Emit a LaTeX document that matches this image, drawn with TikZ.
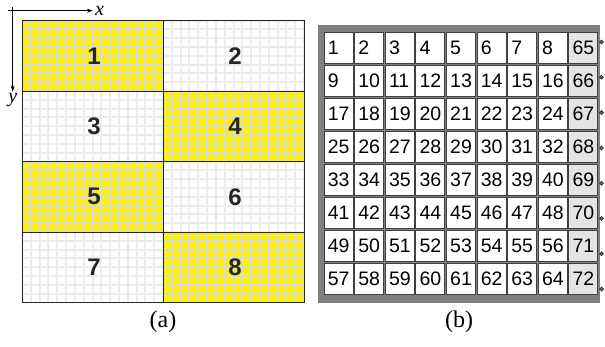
\documentclass[tikz,border=0pt]{standalone}
\usepackage{fontspec}
\setmainfont{Liberation Serif}
\setsansfont{Liberation Sans}
\usepackage{xcolor}
\usepackage{tikz}
\usetikzlibrary{arrows.meta,positioning}

\definecolor{frameGray}{RGB}{128,128,128}
\definecolor{lastCol}{RGB}{228,228,228}

\tikzset{
  blocknum/.style={font=\sffamily\bfseries\fontsize{24}{26}\selectfont, text=black!85},
  cellbox/.style={draw=black!75, line width=1pt, anchor=north west, text width=21.4pt,
    inner sep=3.8pt, minimum height=30.5pt, align=left, font=\sffamily\fontsize{19.5}{21}\selectfont},
  rowdot/.style={circle, inner sep=0pt, minimum size=3.8pt, fill=black!55, draw=black!85, line width=0.7pt},
  axislabel/.style={font=\itshape\fontsize{20}{22}\selectfont, inner sep=2pt},
  caption/.style={font=\fontsize{24}{26}\selectfont}
}

\begin{document}
\begin{tikzpicture}[x=1pt, y=-1pt]
			\useasboundingbox (0,0) rectangle (605,346);
			% Image split in 8 blocks (16x8 fine cells each)
			\foreach \r in {0,...,3} {
				\foreach \c in {0,1} {
					\pgfmathtruncatemacro{\num}{2*\r+\c+1}
					\pgfmathsetmacro{\bx}{22+141*\c}
					\pgfmathsetmacro{\by}{20.5+70.5*\r}
					\pgfmathtruncatemacro{\lit}{mod(\r+\c,2)==0 ? 1 : 0}
					\begin{scope}
						\clip (\bx,\by) rectangle ++(141,70.5);
						\ifnum\lit=1
						\fill[yellow] (\bx,\by) rectangle ++(141,70.5);
						\def\gridcol{gray!30}
						\else
						\fill[white] (\bx,\by) rectangle ++(141,70.5);
						\def\gridcol{gray!14}
						\fi
						\foreach \i in {0,...,16}
						\draw[\gridcol, line width=2pt] ({\bx+\i*8.8125},\by) -- ++(0,70.5);
						\foreach \j in {0,...,8}
						\draw[\gridcol, line width=2pt] (\bx,{\by+\j*8.8125}) -- ++(141,0);
					\end{scope}
					\node[blocknum] (blk\num) at ({\bx+72},{\by+35.25}) {\num};
				}
			}
			\draw[line width=0.9pt, black!85] (22,20.5) rectangle (304,302.5);
			\draw[line width=0.9pt, black!85] (163,20.5) -- (163,302.5);
			\foreach \r in {1,2,3}
			\draw[line width=0.9pt, black!85] (22,{20.5+70.5*\r}) -- (304,{20.5+70.5*\r});
			
			% Axes
			\coordinate (xstart) at (8,10.7);
			\coordinate (ystart) at (12.7,7);
			\node[axislabel] (xlab) at (99.5,11) {x};
			\node[axislabel] (ylab) at (12.7,100.5) {y};
			\draw[-{Stealth[length=6pt, width=4pt]}, line width=0.7pt] (xstart) -- (xstart -| xlab.west);
			\draw[-{Stealth[length=6pt, width=4pt]}, line width=0.7pt] (ystart) -- (ystart |- ylab.north);
			\node[caption] (capa) at (163,322) {(a)};
			
			% Block table with 8 rows of 9 cells
			\fill[frameGray] (318,25) rectangle (600,303);
			\foreach \r in {0,...,7} {
				\foreach \c in {0,...,8} {
					\ifnum\c<8
					\pgfmathtruncatemacro{\num}{8*\r+\c+1}
					\node[cellbox, fill=white] (cell\num) at ({323.5+30.6*\c},{32+33*\r}) {\num};
					\else
					\pgfmathtruncatemacro{\num}{65+\r}
					\node[cellbox, fill=lastCol] (cell\num) at ({323.5+30.6*\c},{32+33*\r}) {\num};
					\fi
				}
				\node[rowdot] (dot\r) at (601.5,{42+35.3*\r}) {};
			}
			\node[caption] (capb) at (459,322) {(b)};
		\end{tikzpicture}
\end{document}
